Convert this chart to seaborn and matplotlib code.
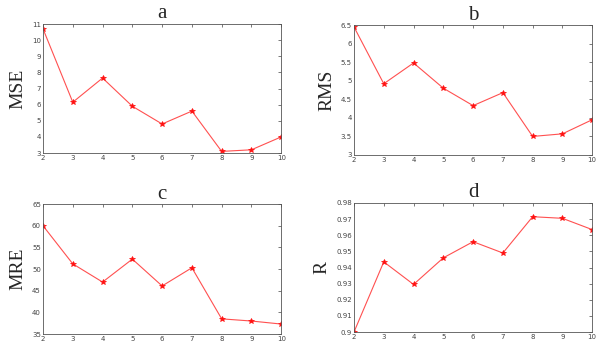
import matplotlib
matplotlib.use("Agg")
import matplotlib.pyplot as plt
import seaborn as sns
import pandas as pd

k = [2, 3, 4, 5, 6, 7, 8, 9, 10]
mse = [10.7, 6.15, 7.65, 5.9, 4.8, 5.6, 3.1, 3.2, 4.0]
rms = [6.45, 4.92, 5.48, 4.8, 4.33, 4.68, 3.5, 3.57, 3.95]
mre = [60.0, 51.2, 47.0, 52.3, 46.1, 50.3, 38.5, 38.0, 37.3]
r = [0.9, 0.9435, 0.9295, 0.946, 0.956, 0.949, 0.9715, 0.9705, 0.9635]

titles = ["a", "b", "c", "d"]
ylabels = ["MSE", "RMS", "MRE", "R"]
series = [mse, rms, mre, r]
ylims = [(3, 11), (3, 6.5), (35, 65), (0.90, 0.98)]
yticks = [
    [3, 4, 5, 6, 7, 8, 9, 10, 11],
    [3, 3.5, 4, 4.5, 5, 5.5, 6, 6.5],
    [35, 40, 45, 50, 55, 60, 65],
    [0.90, 0.91, 0.92, 0.93, 0.94, 0.95, 0.96, 0.97, 0.98],
]
yticklabels = [
    ["3", "4", "5", "6", "7", "8", "9", "10", "11"],
    ["3", "3.5", "4", "4.5", "5", "5.5", "6", "6.5"],
    ["35", "40", "45", "50", "55", "60", "65"],
    ["0.9", "0.91", "0.92", "0.93", "0.94", "0.95", "0.96", "0.97", "0.98"],
]

sns.set_style("white")
fig = plt.figure(figsize=(6.0, 3.52), dpi=100)

positions = [
    [0.0717, 0.5653, 0.397, 0.3665],
    [0.590, 0.5597, 0.397, 0.369],
    [0.0717, 0.0511, 0.397, 0.369],
    [0.590, 0.0568, 0.397, 0.3665],
]

for i in range(4):
    ax = fig.add_axes(positions[i])
    df = pd.DataFrame({"k": k, "v": series[i]})
    sns.lineplot(data=df, x="k", y="v", ax=ax, color="#ff5050", linewidth=0.8,
                 marker="*", markersize=4, markeredgecolor="#ff1010",
                 markerfacecolor="#ff1010", markeredgewidth=0.5)
    ax.set_xlim(2, 10)
    ax.set_ylim(*ylims[i])
    ax.set_xticks(k)
    ax.set_xticklabels([str(v) for v in k])
    ax.set_yticks(yticks[i])
    ax.set_yticklabels(yticklabels[i])
    ax.tick_params(axis="both", direction="in", labelsize=5, length=2.5,
                   width=0.5, colors="#444444", pad=1.5, top=True, right=True)
    for s in ax.spines.values():
        s.set_color("#555555")
        s.set_linewidth(0.6)
    ax.set_xlabel("")
    ax.set_ylabel(ylabels[i], fontsize=14, family="Liberation Serif", labelpad=4)
    ax.set_title(titles[i], fontsize=15, family="Liberation Serif", pad=4)

fig.savefig("out.png", dpi=100)
